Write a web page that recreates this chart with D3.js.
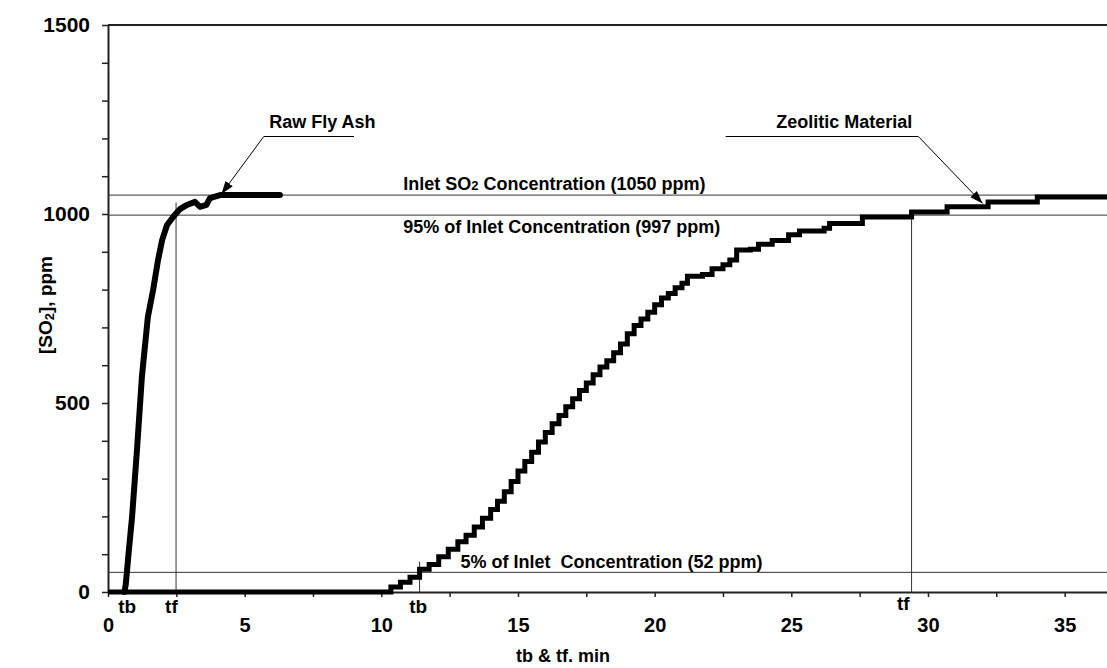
<!DOCTYPE html>
<html>
<head>
<meta charset="utf-8">
<script src="https://cdn.jsdelivr.net/npm/d3@7/dist/d3.min.js"></script>
<style>
    body { margin: 0; background: #fff; }
    text { font-family: Arial, "Liberation Sans", sans-serif; font-weight: bold; fill: #000; white-space: pre; }
</style>
</head>
<body>
<div id="chart"></div>
<script>
// ---------------------------------------------------
// 1. DATOS
// ---------------------------------------------------

// Raw Fly Ash
var flyAshTime = [0.60, 0.65, 0.75, 0.88, 1.06, 1.24, 1.46, 1.65, 1.83, 1.98, 2.16, 2.38, 2.63, 2.89, 3.18, 3.37, 3.60, 3.73, 4.10, 6.29];
var flyAshPpm  = [0,    20,   100,  198,  376,  569,  728,  799,  878,  931,  971,  992,  1013, 1024, 1032, 1019, 1024, 1042, 1050, 1050];

// Zeolitic Material (curva escalonada)
var zeoTime = [0, 10.30, 10.35, 10.70, 11.05, 11.40, 11.75, 12.10, 12.45, 12.80, 13.10, 13.40, 13.70, 14.00, 14.25,
    14.50, 14.75, 15.00, 15.25, 15.50, 15.75, 16.00, 16.25, 16.50, 16.75, 17.00, 17.25, 17.50, 17.75, 18.00,
    18.25, 18.50, 18.75, 19.00, 19.25, 19.50, 19.75, 20.00, 20.25, 20.50, 20.75, 21.00, 21.20, 21.75, 22.10,
    22.50, 22.75, 23.00, 23.50, 23.80, 24.30, 24.90, 25.30, 26.20, 26.40, 27.60, 29.40, 30.70, 32.20, 34.00, 36.60];
var zeoPpm = [0, 0, 13, 26, 39, 60, 73, 93, 113, 133, 150, 172, 195, 218, 240,
    265, 292, 320, 345, 370, 397, 422, 445, 467, 490, 511, 533, 553, 575, 595,
    612, 633, 656, 683, 705, 722, 740, 760, 778, 790, 805, 817, 835, 840, 855,
    866, 878, 905, 907, 920, 930, 945, 955, 962, 975, 992, 1005, 1019, 1032, 1045, 1045];

// Lineas de referencia
var refLevels = [1050, 997, 52];
var refLabels = ["Inlet SO|2| Concentration (1050 ppm)", "95% of Inlet Concentration (997 ppm)", "5% of Inlet  Concentration (52 ppm)"];
var refLabelTime = [10.8, 10.8, 12.9];
var refLabelPpm = [1063, 950, 64];

// tb / tf (tiempo, altura de la linea vertical)
var markTime = [2.49, 11.40, 29.40];
var markTop = [1030, 80, 1010];
var markLabels = ["tb", "tf", "tb", "tf"];
var markLabelTime = [0.70, 2.32, 11.35, 29.10];
var markLabelY = [613, 613, 613, 610];

// Ejes
var xTicks = [0, 5, 10, 15, 20, 25, 30, 35];
var yTicks = [0, 500, 1000, 1500];

// ---------------------------------------------------
// 2. LIENZO Y ESCALAS
// ---------------------------------------------------
var width = 1107, height = 668;
var svg = d3.select("#chart").append("svg")
    .attr("width", width)
    .attr("height", height);

var x = d3.scaleLinear().domain([0, 36.55]).range([108, 1107]);
var y = d3.scaleLinear().domain([0, 1500]).range([592, 25]);

// flecha
svg.append("defs").append("marker")
    .attr("id", "arrow")
    .attr("markerUnits", "userSpaceOnUse")
    .attr("markerWidth", 14)
    .attr("markerHeight", 10)
    .attr("refX", 13)
    .attr("refY", 4.5)
    .attr("orient", "auto")
    .append("path")
    .attr("d", "M0,0 L13,4.5 L0,9 Z")
    .attr("fill", "#000");

// ---------------------------------------------------
// 3. EJES
// ---------------------------------------------------
var yAxis = d3.axisLeft(y)
    .tickValues(d3.range(0, 1501, 100))
    .tickSize(6)
    .tickSizeOuter(0)
    .tickPadding(12)
    .tickFormat(d => yTicks.includes(d) ? d : "");
var gy = svg.append("g").attr("transform", "translate(108,0)").call(yAxis);
gy.select(".domain").attr("stroke", "#222").attr("stroke-width", 2);
gy.selectAll(".tick line").attr("stroke", "#222").attr("stroke-width", 1.5);
gy.selectAll(".tick text").attr("font-size", 21).attr("font-family", null);

var xAxis = d3.axisBottom(x)
    .tickValues(d3.range(0, 36.6, 2.5))
    .tickSize(5)
    .tickSizeOuter(0)
    .tickPadding(21)
    .tickFormat(d => xTicks.includes(d) ? d : "");
var gx = svg.append("g").attr("transform", "translate(0,592)").call(xAxis);
gx.select(".domain").attr("stroke", "#222").attr("stroke-width", 2);
gx.selectAll(".tick line").attr("stroke", "#222").attr("stroke-width", 1.5);
gx.selectAll(".tick text").attr("font-size", 20).attr("font-family", null);

// borde superior
svg.append("line")
    .attr("x1", x(0)).attr("x2", x(36.55))
    .attr("y1", y(1500)).attr("y2", y(1500))
    .attr("stroke", "#222").attr("stroke-width", 2);

// titulos de ejes
svg.append("text")
    .attr("x", 563).attr("y", 662)
    .attr("text-anchor", "middle")
    .attr("font-size", 18)
    .text("tb & tf. min");

var ytitle = svg.append("text")
    .attr("transform", "translate(52,305) rotate(-90)")
    .attr("text-anchor", "middle")
    .attr("font-size", 19);
ytitle.append("tspan").text("[SO");
ytitle.append("tspan").attr("font-size", 13).attr("dy", 2).text("2");
ytitle.append("tspan").attr("dy", -2).text("], ppm");

// ---------------------------------------------------
// 4. LINEAS DE REFERENCIA
// ---------------------------------------------------
svg.append("g").selectAll("line")
    .data(refLevels)
    .enter()
    .append("line")
    .attr("x1", x(0)).attr("x2", x(36.55))
    .attr("y1", d => y(d)).attr("y2", d => y(d))
    .attr("stroke", "#333").attr("stroke-width", 1);

refLabels.forEach(function (lab, i) {
    var t = svg.append("text")
        .attr("x", x(refLabelTime[i]))
        .attr("y", y(refLabelPpm[i]))
        .attr("font-size", 18);
    lab.split("|").forEach(function (part, j) {
        if (j == 1) {
            t.append("tspan").attr("font-size", 13).text(part);
        } else {
            t.append("tspan").text(part);
        }
    });
});

// verticales tb / tf
svg.append("g").selectAll("line")
    .data(markTime)
    .enter()
    .append("line")
    .attr("x1", d => x(d)).attr("x2", d => x(d))
    .attr("y1", (d, i) => y(markTop[i])).attr("y2", y(0))
    .attr("stroke", "#333").attr("stroke-width", 1);

svg.append("g").selectAll("text")
    .data(markLabels)
    .enter()
    .append("text")
    .attr("x", (d, i) => x(markLabelTime[i]))
    .attr("y", (d, i) => markLabelY[i])
    .attr("text-anchor", "middle")
    .attr("font-size", 19)
    .text(d => d);

// ---------------------------------------------------
// 5. CURVAS
// ---------------------------------------------------
var flyAsh = flyAshTime.map((t, i) => [t, flyAshPpm[i]]);
var zeo = zeoTime.map((t, i) => [t, zeoPpm[i]]);

svg.append("path")
    .datum(zeo)
    .attr("d", d3.line().x(d => x(d[0])).y(d => y(d[1])).curve(d3.curveStepAfter))
    .attr("fill", "none")
    .attr("stroke", "#000")
    .attr("stroke-width", 5)
    .attr("stroke-linejoin", "miter");

svg.append("path")
    .datum(flyAsh)
    .attr("d", d3.line().x(d => x(d[0])).y(d => y(d[1])))
    .attr("fill", "none")
    .attr("stroke", "#000")
    .attr("stroke-width", 6)
    .attr("stroke-linecap", "round")
    .attr("stroke-linejoin", "round");

// ---------------------------------------------------
// 6. ANOTACIONES
// ---------------------------------------------------
var notes = [
    { label: "Raw Fly Ash", textT: 5.9, pts: [[9.0, 1205], [5.7, 1205], [4.15, 1053]] },
    { label: "Zeolitic Material", textT: 24.45, pts: [[22.6, 1205], [29.65, 1205], [32.0, 1028]] }
];
notes.forEach(function (n) {
    svg.append("path")
        .attr("d", d3.line().x(d => x(d[0])).y(d => y(d[1]))(n.pts))
        .attr("fill", "none")
        .attr("stroke", "#000")
        .attr("stroke-width", 1)
        .attr("marker-end", "url(#arrow)");
    svg.append("text")
        .attr("x", x(n.textT))
        .attr("y", y(1228))
        .attr("font-size", 18)
        .text(n.label);
});
</script>
</body>
</html>
